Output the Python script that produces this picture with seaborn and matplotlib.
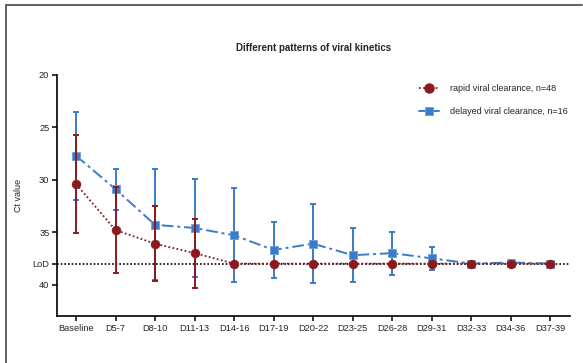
import numpy as np
import pandas as pd
import matplotlib
matplotlib.use('Agg')
import matplotlib.pyplot as plt
from matplotlib.lines import Line2D
import seaborn as sns

# data (mean Ct value and SD)
days = ['Baseline', 'D5-7', 'D8-10', 'D11-13', 'D14-16', 'D17-19', 'D20-22',
        'D23-25', 'D26-28', 'D29-31', 'D32-33', 'D34-36', 'D37-39']
rapid_mean = [30.4, 34.8, 36.1, 37.0, 38, 38, 38, 38, 38, 38, 38, 38, 38]
rapid_sd = [4.7, 4.1, 3.6, 3.3, 0, 0, 0, 0, 0, 0, 0, 0, 0]
delayed_mean = [27.7, 30.9, 34.3, 34.6, 35.3, 36.7, 36.1, 37.2, 37.0, 37.5, 38, 37.9, 38]
delayed_sd = [4.2, 1.95, 5.3, 4.7, 4.5, 2.65, 3.75, 2.6, 2.05, 1.1, 0, 0.1, 0]
lod = 38

red = '#8b1a1f'
blue = '#3a7cc8'

sns.set_style('ticks')
plt.rcParams['font.family'] = ['Liberation Sans', 'DejaVu Sans']

x = np.arange(len(days))
df = pd.DataFrame({'x': x, 'rapid': rapid_mean, 'delayed': delayed_mean})

fig = plt.figure(figsize=(5.83, 3.63), dpi=100)
ax = fig.add_axes([0.0978, 0.1295, 0.88, 0.6639])

# delayed clearance (blue, dash-dot, squares)
ax.errorbar(x, delayed_mean, yerr=delayed_sd, fmt='none', ecolor=blue,
            elinewidth=1.4, capsize=2.2, capthick=1.4, zorder=2)
sns.lineplot(data=df, x='x', y='delayed', ax=ax, color=blue, linestyle=(0, (6, 2, 1.5, 2)),
             linewidth=1.4, marker='s', markersize=6, markeredgecolor='#6a9fdc',
             markeredgewidth=0.6, zorder=3)

# rapid clearance (red, dotted, circles)
ax.errorbar(x, rapid_mean, yerr=rapid_sd, fmt='none', ecolor=red,
            elinewidth=1.4, capsize=2.2, capthick=1.4, zorder=4)
sns.lineplot(data=df, x='x', y='rapid', ax=ax, color=red, linestyle=(0, (1, 1.3)),
             linewidth=1.3, marker='o', markersize=6.5, markeredgecolor=red,
             markeredgewidth=0.3, zorder=5)

ax.axhline(lod, color='black', linestyle=(0, (1, 1.2)), linewidth=1.2, zorder=1)

ax.set_xlim(-0.48, 12.5)
ax.set_ylim(43, 20)
ax.set_yticks([20, 25, 30, 35, lod, 40])
ax.set_yticklabels(['20', '25', '30', '35', 'LoD', '40'])
ax.set_xticks(x)
ax.set_xticklabels(days)
ax.tick_params(labelsize=6.7, width=1.1, length=3.5, pad=2, color='black')
ax.set_xlabel('')
ax.set_ylabel('Ct value', fontsize=6.5, labelpad=7)
ax.set_title('Different patterns of viral kinetics', fontsize=7, fontweight='bold', pad=17)
for s in ['left', 'bottom']:
    ax.spines[s].set_linewidth(1.2)
    ax.spines[s].set_color('black')
sns.despine(ax=ax)

handles = [
    Line2D([], [], color=red, linestyle=(0, (1, 1.3)), linewidth=1.3, marker='o', markersize=6.5),
    Line2D([], [], color=blue, linestyle='-', linewidth=1.4, marker='s', markersize=6,
           markeredgecolor='#6a9fdc', markeredgewidth=0.6),
]
ax.legend(handles, ['rapid viral clearance, n=48', 'delayed viral clearance, n=16'],
          loc='upper left', bbox_to_anchor=(0.706, 0.962), frameon=False, fontsize=6.5,
          handlelength=2.2, handletextpad=1.2, labelspacing=1.55, borderpad=0, borderaxespad=0)

# outer frame lines (top and left)
fig.add_artist(Line2D([0.011, 0.999], [0.985, 0.985], color='#555555', linewidth=1.3,
                      transform=fig.transFigure))
fig.add_artist(Line2D([0.011, 0.011], [0.0, 0.985], color='#555555', linewidth=1.3,
                      transform=fig.transFigure))

fig.savefig('out.png', dpi=100)
